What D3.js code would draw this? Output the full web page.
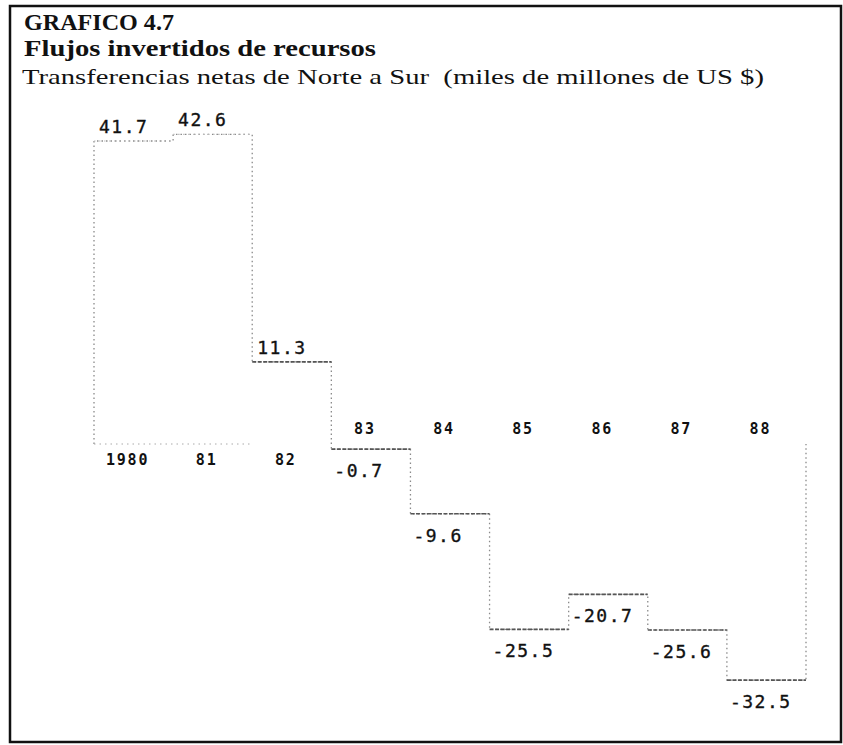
<!DOCTYPE html>
<html>
<head>
<meta charset="utf-8">
<script src="https://cdn.jsdelivr.net/npm/d3@7"></script>
<style>
  html, body { margin: 0; padding: 0; background: #fff; }
  svg { display: block; }
</style>
</head>
<body>
<script>
// Net North-to-South transfers, billions of US dollars
const years = ["1980", "81", "82", "83", "84", "85", "86", "87", "88"];
const transfers = [41.7, 42.6, 11.3, -0.7, -9.6, -25.5, -20.7, -25.6, -32.5];
const valueLabels = ["41.7", "42.6", "11.3", "-0.7", "-9.6", "-25.5", "-20.7", "-25.6", "-32.5"];
const titleLines = [
  "GRAFICO 4.7",
  "Flujos invertidos de recursos",
  "Transferencias netas de Norte a Sur  (miles de millones de US $)"
];

const W = 843, H = 745;
const svg = d3.select("body").append("svg")
  .attr("width", W).attr("height", H);

// frame
svg.append("path")
  .attr("d", "M10,6 L841,6 L841,742 L10,742 Z")
  .attr("fill", "none").attr("stroke", "#111").attr("stroke-width", 2.5);

// headings
const serif = "'Liberation Serif', 'DejaVu Serif', serif";
svg.append("text").text(titleLines[0])
  .attr("x", 24).attr("y", 30)
  .attr("font-family", serif).attr("font-weight", "bold").attr("font-size", 23)
  .attr("textLength", 150).attr("lengthAdjust", "spacingAndGlyphs")
  .attr("fill", "#111");
svg.append("text").text(titleLines[1])
  .attr("x", 24).attr("y", 56)
  .attr("font-family", serif).attr("font-weight", "bold").attr("font-size", 24)
  .attr("textLength", 352).attr("lengthAdjust", "spacingAndGlyphs")
  .attr("fill", "#111");
svg.append("text").text(titleLines[2])
  .attr("x", 22).attr("y", 84)
  .attr("font-family", serif).attr("font-size", 22)
  .attr("textLength", 742).attr("lengthAdjust", "spacingAndGlyphs")
  .attr("fill", "#111")
  .style("white-space", "pre");

// scales
const x = d3.scaleBand().domain(years).range([94, 806]).padding(0);
const y = d3.scaleLinear().domain([0, 41.7]).range([444, 141]);
const bw = x.bandwidth();

const data = years.map((yr, i) => ({ yr, v: transfers[i], label: valueLabels[i] }));

const g = svg.append("g");

// stepped outline: up the first edge, across each bar, down the last edge
const stepPts = [[x(years[0]), y(0)]]
  .concat(data.map(d => [x(d.yr), y(d.v)]))
  .concat([[x(years[years.length - 1]) + bw, y(0)]]);
g.append("path")
  .attr("d", d3.line().curve(d3.curveStepAfter)(stepPts))
  .attr("fill", "none")
  .attr("stroke", "#8a8a8a")
  .attr("stroke-width", 1.3)
  .attr("stroke-dasharray", "1.5,3");

// zero line under the positive bars
const posYears = data.filter(d => d.v > 0);
g.append("line")
  .attr("x1", x(posYears[0].yr))
  .attr("x2", x(posYears[posYears.length - 1].yr))
  .attr("y1", y(0)).attr("y2", y(0))
  .attr("stroke", "#aaa").attr("stroke-width", 1)
  .attr("stroke-dasharray", "1.5,4");

// value edge of each bar
g.selectAll("line.edge").data(data).join("line")
  .attr("class", "edge")
  .attr("x1", d => x(d.yr)).attr("x2", d => x(d.yr) + bw)
  .attr("y1", d => y(d.v)).attr("y2", d => y(d.v))
  .attr("stroke", d => d.v > 20 ? "#bdbdbd" : "#555")
  .attr("stroke-width", d => d.v > 20 ? 1.2 : 1.7)
  .attr("stroke-dasharray", d => d.v > 20 ? "1.5,3.5" : "4,1.5");

// year labels on the zero line
const mono = "'DejaVu Sans Mono', 'Liberation Mono', monospace";
g.selectAll("text.year").data(data).join("text")
  .attr("class", "year")
  .attr("x", d => x(d.yr) + bw / 2 - 6)
  .attr("y", d => d.v >= 0 ? y(0) + 21 : y(0) - 10)
  .attr("text-anchor", "middle")
  .attr("font-family", mono).attr("font-weight", "bold").attr("font-size", 15)
  .attr("letter-spacing", 1.8)
  .attr("fill", "#111")
  .text(d => d.yr);

// value labels
g.selectAll("text.val").data(data).join("text")
  .attr("class", "val")
  .attr("x", d => x(d.yr) + (d.v >= 0 ? 5 : 3))
  .attr("y", d => d.v >= 0 ? y(d.v) - 8 : y(d.v) + 28)
  .attr("font-family", mono).attr("font-size", 18)
  .attr("letter-spacing", 1.5)
  .attr("fill", "#111")
  .attr("stroke", "#111").attr("stroke-width", 0.35)
  .text(d => d.label);
</script>
</body>
</html>
